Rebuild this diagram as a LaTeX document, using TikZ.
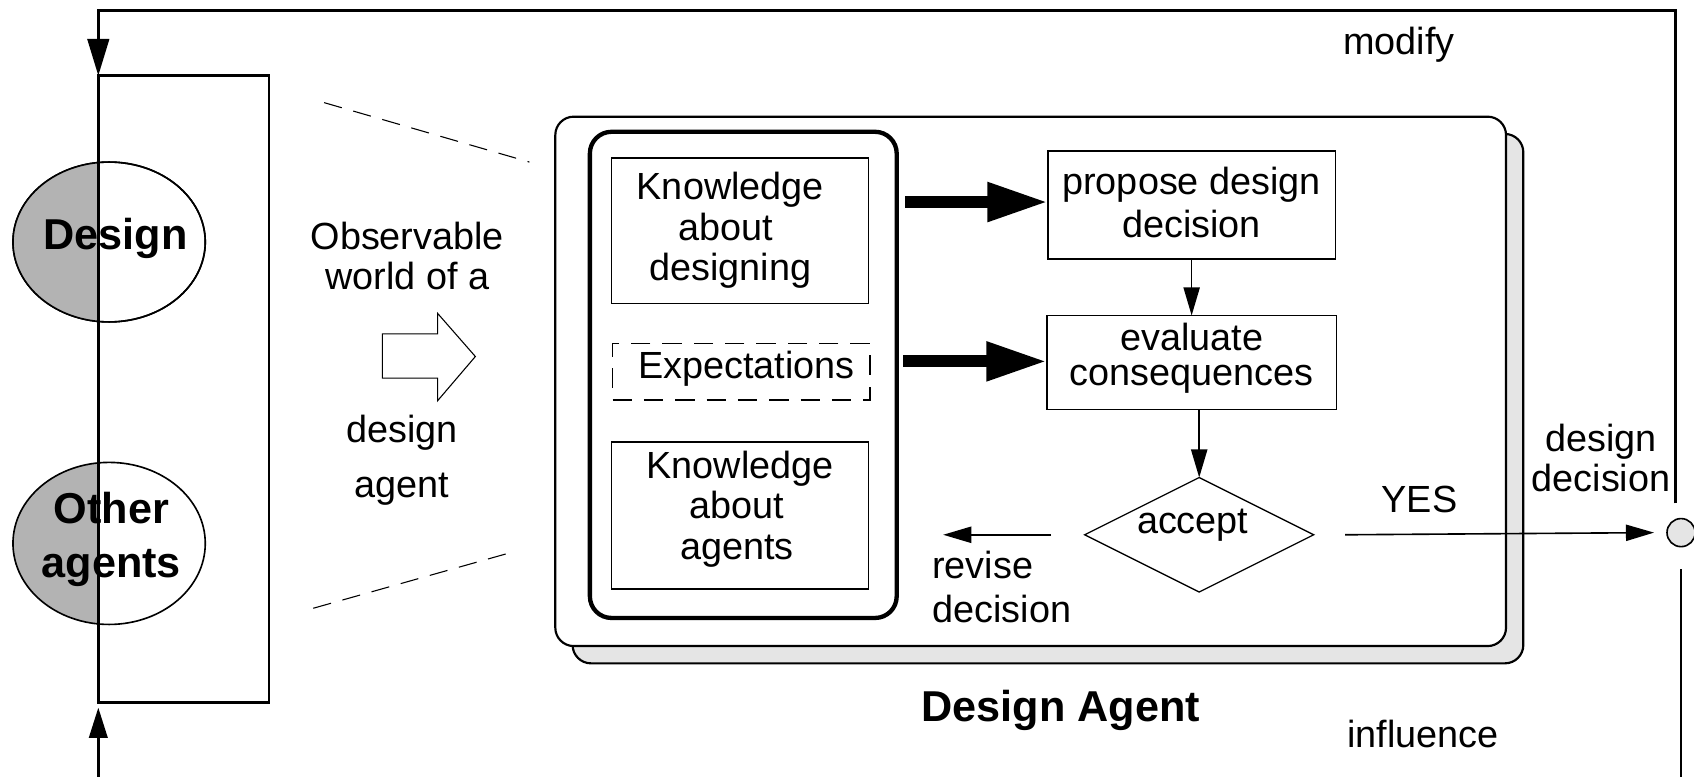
\documentclass[tikz,border=0pt]{standalone}
\usepackage{fontspec}
\setmainfont{Liberation Sans}
\usetikzlibrary{arrows.meta,shapes.geometric,calc}
\newcommand\mytxt{\fontsize{35}{37.5}\selectfont}
\newcommand\mybold{\fontsize{40}{50}\selectfont\bfseries}
% invisible struts used to nudge text inside fixed-size boxes
\newcommand\padR[1]{\rule{#1}{0pt}}
\newcommand\padD[1]{\rule[-#1]{0pt}{1pt}}
\definecolor{halfgray}{HTML}{B3B3B3}
\definecolor{shade}{HTML}{E5E5E5}
\begin{document}
\begin{tikzpicture}[x=1pt,y=-1pt,
  every node/.style={inner sep=0pt, outer sep=0pt},
  loopline/.style={line width=2.5pt},
  worldbox/.style={draw, line width=2.5pt},
  oval/.style={draw, ellipse, line width=1.5pt, minimum width=178pt, minimum height=148pt},
  txt/.style={font=\mytxt, align=center},
  boldtxt/.style={font=\mybold, align=center},
  panel/.style={draw, line width=2pt, rounded corners=17pt, minimum width=880pt, minimum height=490pt},
  kbox/.style={draw, line width=1.5pt, minimum width=238pt, font=\mytxt, align=center},
  stepbox/.style={draw, line width=1.5pt, font=\mytxt, align=center},
  decision/.style={draw, diamond, line width=1.2pt, minimum width=212pt, minimum height=106pt},
  thinarrow/.style={line width=1.5pt, -{Triangle[length=26pt,width=15pt]}},
  bigarrow/.style={line width=11pt, -{Triangle[length=56pt,width=34pt]}},
  zoomline/.style={line width=1pt, dash pattern=on 17pt off 11pt},
]
\useasboundingbox (0,0) rectangle (1568,719);

% --- the observable world: two half-shaded ovals ---
\node[oval, fill=white] (design) at (101,224) {};
\begin{scope}
  \clip (0,0) rectangle (91,719);
  \fill[halfgray] (101,224) ellipse [x radius=89pt, y radius=74pt];
  \fill[halfgray] (101,503) ellipse [x radius=89pt, y radius=75pt];
\end{scope}
\node[oval, minimum height=150pt] (others) at (101,503) {};
\node[oval] at (design) {};

\node[worldbox, minimum width=158pt, minimum height=580pt] (world) at (170,360) {};

\node[boldtxt, anchor=base] (designtxt) at (107,231) {Design};
\node[boldtxt] (otherstxt) at (103,499) {Other\\agents};

% --- zoom lines towards the agent ---
\coordinate (zA1) at (300,95);
\coordinate (zA2) at (490,150);
\coordinate (zB1) at (290,563);
\coordinate (zB2) at (478,510);
\draw[zoomline] (zA1) -- (zA2);
\draw[zoomline] (zB1) -- (zB2);

\node[txt] (obs) at (377,237) {Observable\\world of a};
\draw[line width=1pt, fill=white] (354,309) -- (405,309) -- (405,290) -- (440,330)
  -- (405,371) -- (405,350) -- (354,350) -- cycle;
\node[txt] (obsagent) at (372,426) {design\\[13pt]agent};

% --- the design agent ---
\node[panel, fill=shade] (shadow) at (970,369) {};
\node[panel, fill=white] (agent) at (954,353) {};
\node[draw, line width=4pt, rounded corners=20pt, minimum width=284pt, minimum height=450pt] (inner) at (688,347) {};

\node[kbox, minimum height=135pt] (kdes) at (685,213.5)
  {Knowledge\padR{18pt}\\about\padR{26pt}\\designing\padR{18pt}};
\node[kbox, minimum height=52pt, dash pattern=on 18pt off 11pt] (expect) at (686,344)
  {\padR{10pt}Expectations\padD{13pt}};
\node[kbox, minimum height=136pt] (kag) at (685,477)
  {Knowledge\\about\padR{6pt}\\agents\padR{6pt}\padD{19pt}};

\node[stepbox, minimum width=266pt, minimum height=100pt] (propose) at (1103,190)
  {propose design\\[2.5pt]decision\padD{5pt}};
\node[stepbox, minimum width=268pt, minimum height=87pt] (evaluate) at (1103,335.5)
  {evaluate\\[-5pt]consequences\padD{15pt}};
\node[decision] (accept) at (1110,495) {};
\node[txt, anchor=base] (accepttxt) at (1104,494) {accept};

\draw[bigarrow] ($(inner.east |- propose.west)+(8,-3)$) -- ($(propose.west)+(0,-3)$);
\draw[bigarrow] ($(inner.east |- evaluate.west)+(6,-1)$) -- ($(evaluate.west)+(0,-1)$);
\draw[thinarrow] (propose.south) -- (evaluate.north);
\draw[thinarrow] (evaluate.south -| accept.north) -- (accept.north);
\draw[thinarrow] ($(accept.west)+(-31,0)$) -- ($(inner.east |- accept.west)+(43,0)$);
\node[txt, align=left, anchor=west] (revise) at (863,543) {revise\\[3pt]decision};

% --- accepted decision leaves the agent ---
\node[draw, circle, line width=1.5pt, fill=shade, minimum size=26pt] (out) at (1556,493) {};
\draw[thinarrow] ($(accept.east)+(29,0)$) -- ($(out.west)+(-12,0)$);
\node[txt, anchor=base] (yes) at (1314,474) {YES};
\node[txt] (outlbl) at (1482,424) {design\\decision};

% --- feedback into the world ---
\draw[loopline, -{Triangle[length=34pt,width=20pt]}]
  ($(out.north)+(-5,-14)$) |- ($(world.north west)+(0,-60)$) -- (world.north west);
\coordinate (inA) at (1556,719);
\coordinate (inB) at (91,719);
\draw[line width=2pt] ($(out.south)+(0,21)$) -- (inA);
\draw[loopline, -{Triangle[length=28pt,width=17pt]}] (inB) -- ($(world.south west)+(0,5)$);

\node[txt, anchor=base] (modify) at (1295,50) {modify};
\node[txt, anchor=base] (influence) at (1317,692) {influence};
\node[boldtxt, anchor=base] (agenttitle) at (982,668) {Design Agent};
\end{tikzpicture}
\end{document}
